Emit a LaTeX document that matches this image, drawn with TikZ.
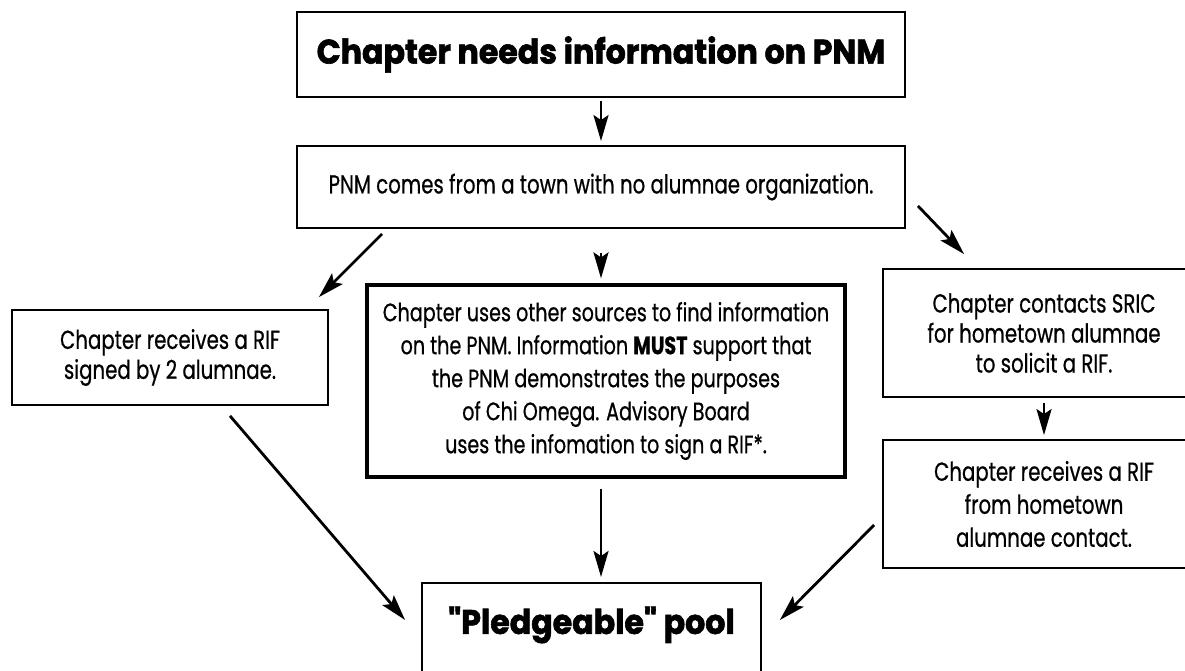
\documentclass[tikz,border=0pt]{standalone}
\usepackage{fontspec}
\newfontfamily\bodyf{Poppins}[FakeStretch=0.76,FakeBold=0.6]
\newfontfamily\headf{Poppins}[FakeStretch=0.93,FakeBold=1.8]
\usetikzlibrary{arrows.meta,calc}
\begin{document}
\begin{tikzpicture}[x=1pt,y=-1pt,
  box/.style={draw=black,line width=1.8pt,inner sep=0pt,align=center},
  thickbox/.style={draw=black,line width=3.2pt,inner sep=0pt,align=center},
  headtext/.style={font=\headf\bfseries\fontsize{34}{38}\selectfont},
  body/.style={font=\bodyf\fontsize{26}{#1}\selectfont},
  midbody/.style={font=\bodyf\fontsize{25.2}{#1}\selectfont},
  arr/.style={line width=2.8pt,-{Stealth[length=26pt,width=15pt,inset=5pt]}}]
\useasboundingbox (0,0) rectangle (1185,671);
\node[box,headtext,minimum width=608,minimum height=85] (top) at (601,54.5) {Chapter needs information on PNM};
\node[box,body=30,minimum width=608,minimum height=82] (b2) at (601,187) {PNM comes from a town with no alumnae organization.};
\node[thickbox,midbody=33,minimum width=478,minimum height=192] (mid) at (606,381) {Chapter uses other sources to find information\\on the PNM. Information \textbf{MUST} support that\\the PNM demonstrates the purposes\\of Chi Omega. Advisory Board\\uses the infomation to sign a RIF*.};
\node[box,body=30,minimum width=316,minimum height=95] (left) at (170,357.5) {Chapter receives a RIF\\signed by 2 alumnae.};
\node[box,body=30,minimum width=322,minimum height=128] (r1) at (1044,333) {Chapter contacts SRIC\\for hometown alumnae\\to solicit a RIF.};
\node[box,body=33,minimum width=322,minimum height=128] (r2) at (1044,504) {Chapter receives a RIF\\from hometown\\alumnae contact.};
\node[box,minimum width=339,minimum height=130,anchor=north] (pool) at (591.5,582) {};
\node[headtext,inner sep=0pt] (pooltext) at ($(pool.north)+(0,43)$) {"Pledgeable" pool};
\draw[arr] ($(top.south)+(0,3)$) -- ($(b2.north)+(0,-4)$);
\draw[arr] ($(b2.south)+(0,24)$) -- ($(mid.north -| b2.south)+(0,-5)$);
\draw[arr] ($(b2.south west)+(86,5)$) -- ($(left.north east)+(-10,-12)$);
\draw[arr] ($(b2.south east)+(12,-23)$) -- ($(r1.north west)+(82,-14)$);
\draw[arr] ($(r1.south)+(0,5)$) -- ($(r2.north)+(0,-4)$);
\draw[arr] ($(left.south)+(60,10)$) -- ($(pool.north west)+(-16,38)$);
\draw[arr] ($(mid.south -| top.south)+(0,10)$) -- ($(pool.north -| top.south)+(0,-5)$);
\draw[arr] ($(r2.west)+(-8,21)$) -- ($(pool.north east)+(18,38)$);
\end{tikzpicture}
\end{document}
